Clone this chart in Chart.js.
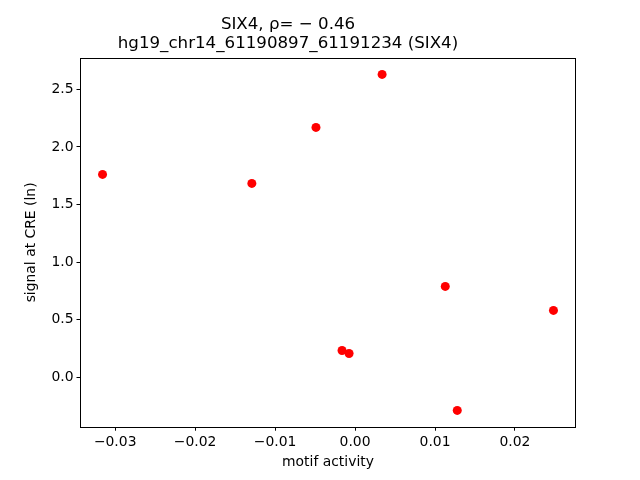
<!DOCTYPE html>
<html>
<head>
<meta charset="utf-8">
<script src="https://cdn.jsdelivr.net/npm/chart.js@4.4.1/dist/chart.umd.min.js"></script>
<style>
html,body{margin:0;padding:0;background:#fff;}
#wrap{width:640px;height:480px;}
</style>
</head>
<body>
<div id="wrap"><canvas id="c" width="640" height="480"></canvas></div>
<script>
const titleLines = ["SIX4, \u03C1= \u2212 0.46", "hg19_chr14_61190897_61191234 (SIX4)"];
const xLabel = "motif activity";
const yLabel = "signal at CRE (ln)";
const motifActivity = [-0.03158, -0.01291, -0.00489, 0.00338, -0.00163, -0.00075, 0.01128, 0.02481, 0.01278];
const creSignal = [1.762, 1.684, 2.170, 2.630, 0.234, 0.208, 0.790, 0.582, -0.286];
const xTicks = [-0.03, -0.02, -0.01, 0.00, 0.01, 0.02];
const yTicks = [0.0, 0.5, 1.0, 1.5, 2.0, 2.5];

Chart.defaults.font.family = "'DejaVu Sans', sans-serif";
Chart.defaults.color = '#000';

const points = motifActivity.map((x, i) => ({x: x, y: creSignal[i]}));

function span(arr, frac) {
  const mn = Math.min(...arr), mx = Math.max(...arr);
  const r = mx - mn;
  return [mn - frac * r, mx + frac * r];
}
const [xMin, xMax] = span(motifActivity, 0.05);
const [yMin, yMax] = span(creSignal, 0.05);

const boxPlugin = {
  id: 'box',
  afterDraw(chart) {
    const a = chart.chartArea, ctx = chart.ctx;
    ctx.save();
    ctx.strokeStyle = '#000';
    ctx.lineWidth = 1;
    ctx.strokeRect(Math.round(a.left) + 0.5, Math.round(a.top) + 0.5,
                   Math.round(a.right - a.left) - 1, Math.round(a.bottom - a.top) - 1);
    ctx.restore();
  }
};

new Chart(document.getElementById('c'), {
  type: 'scatter',
  data: {
    datasets: [{
      data: points,
      backgroundColor: '#ff0000',
      borderColor: '#ff0000',
      borderWidth: 0,
      pointRadius: 4.5,
      pointHoverRadius: 4.5
    }]
  },
  plugins: [boxPlugin],
  options: {
    responsive: false,
    animation: false,
    layout: {padding: {left: 0, right: 64, top: 0, bottom: 0}},
    plugins: {
      legend: {display: false},
      tooltip: {enabled: false},
      title: {
        display: true,
        text: titleLines,
        color: '#000',
        font: {size: 16.67, weight: 'normal', lineHeight: 1.17},
        padding: {top: 14.75, bottom: 3.85}
      }
    },
    scales: {
      x: {
        type: 'linear',
        min: xMin,
        max: xMax,
        afterFit(s) { s.height = 52.8; },
        afterBuildTicks(s) { s.ticks = xTicks.map(v => ({value: v})); },
        border: {display: false},
        grid: {drawOnChartArea: false, drawTicks: true, tickLength: 3.5, tickColor: '#000', tickWidth: 1},
        ticks: {
          font: {size: 13.9},
          padding: 3,
          maxRotation: 0,
          callback: v => v.toFixed(2).replace('-', '\u2212').replace('\u22120.00', '0.00')
        },
        title: {display: true, text: xLabel, font: {size: 13.9}, padding: {top: 0, bottom: 9.5}}
      },
      y: {
        type: 'linear',
        min: yMin,
        max: yMax,
        afterFit(s) { s.width = 80; },
        afterBuildTicks(s) { s.ticks = yTicks.map(v => ({value: v})); },
        border: {display: false},
        grid: {drawOnChartArea: false, drawTicks: true, tickLength: 3.5, tickColor: '#000', tickWidth: 1},
        ticks: {
          font: {size: 13.9},
          padding: 3,
          callback: v => v.toFixed(1).replace('-', '\u2212')
        },
        title: {display: true, text: yLabel, font: {size: 13.9}, padding: {top: 23.5, bottom: 0}}
      }
    }
  }
});
</script>
</body>
</html>
